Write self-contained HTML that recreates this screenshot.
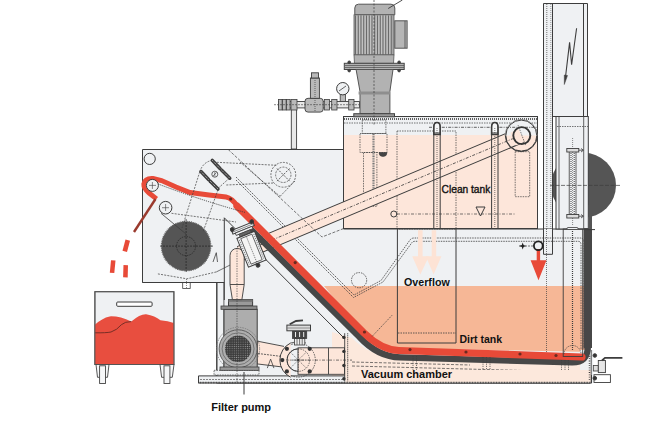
<!DOCTYPE html>
<html><head><meta charset="utf-8">
<style>
html,body{margin:0;padding:0;background:#fff;width:654px;height:423px;overflow:hidden}
svg{display:block}
text{font-family:"Liberation Sans",sans-serif;fill:#111;font-weight:bold}
</style></head><body>
<svg width="654" height="423" viewBox="0 0 654 423">
<defs>
<pattern id="grille" width="2.2" height="2.2" patternUnits="userSpaceOnUse"><rect width="2.2" height="2.2" fill="#3c3c3c"/><circle cx="1.1" cy="1.1" r="0.55" fill="#9a9a9a"/></pattern>
</defs>
<g fill="none" stroke="#3d3d3d" stroke-width="1">

<!-- ========== RIGHT TALL PANEL ========== -->
<circle cx="583.5" cy="185.3" r="32.5" fill="#555" stroke="none"/>
<path d="M543.5 254.3 V3.5 H587.5 V116.5 H552.5 V254.3 Z" fill="#eff1f3"/>
<line x1="552.5" y1="3.5" x2="552.5" y2="254.3"/>
<line x1="546.8" y1="4" x2="546.8" y2="252" stroke-dasharray="1 1" stroke-width="0.7"/>
<line x1="550.8" y1="4" x2="550.8" y2="252" stroke-dasharray="1 1" stroke-width="0.5"/>
<line x1="583.5" y1="3.5" x2="583.5" y2="116"/>
<path d="M576.6 28.3 L571.6 64.8 L569.6 42.4 L565.5 77" stroke-width="1.1"/>
<path d="M564.3 84.5 L564.3 75 L567.5 75.5 Z" fill="#3d3d3d" stroke-width="0.5"/>

<!-- ========== HOUSING / TANK GRAY BACKGROUND ========== -->
<path d="M142.5 149.5 H343.5 V229 H590 V383 H216.8 V282.5 H142.5 Z" fill="#eff1f3"/>

<!-- clean tank -->
<rect x="343.5" y="116.5" width="194" height="112" fill="#fde6da"/>
<rect x="344" y="117" width="193" height="18" fill="#eff1f3" stroke="none"/>
<rect x="343.5" y="116.5" width="194" height="112" fill="none"/>
<line x1="344" y1="119" x2="537" y2="119" stroke-dasharray="0.8 1.2" stroke-width="2"/>
<line x1="344" y1="123" x2="537" y2="123" stroke-dasharray="1.5 1" stroke-width="0.7"/>
<rect x="362.3" y="120" width="23.6" height="13.5" stroke-dasharray="1.5 1" stroke-width="0.7"/>
<rect x="360" y="133.5" width="27" height="19" stroke-dasharray="1.5 1" stroke-width="0.7"/>
<rect x="363.5" y="152.5" width="13.4" height="53.8" stroke-dasharray="1.5 1" stroke-width="0.7"/>
<line x1="373.5" y1="134" x2="373.5" y2="206" stroke-dasharray="1 0.7" stroke-width="2.2" stroke="#777"/>
<path d="M379 152.5 H387 A4 4 0 0 1 379 152.5 Z" fill="#444" stroke-width="0.6"/>
<rect x="397" y="131" width="59" height="98" stroke-dasharray="1.5 1" stroke-width="0.7"/>
<rect x="515.2" y="151.7" width="14.5" height="45" stroke-dasharray="1.5 1" stroke-width="0.7"/>
<circle cx="393.8" cy="214" r="3"/>
<line x1="397" y1="214" x2="515" y2="214" stroke-dasharray="3 1.5 1 1.5" stroke-width="0.7"/>
<path d="M476 207 H485 L480.5 216 Z"/>
<!-- rods -->

<!-- right inner panel -->
<rect x="556" y="116.5" width="32.3" height="112.5" fill="#eff1f3"/>
<line x1="559" y1="116.5" x2="559" y2="229" stroke-width="0.8"/>
<line x1="583.7" y1="116.5" x2="583.7" y2="229" stroke-width="0.8"/>
<line x1="557" y1="126.5" x2="588" y2="126.5" stroke-dasharray="1.5 1" stroke-width="0.7"/>
<rect x="569.2" y="150" width="6.8" height="66" fill="#eff1f3" stroke-width="0.8"/>
<line x1="571" y1="151" x2="571" y2="215" stroke-dasharray="1 1" stroke-width="1"/>
<line x1="574.2" y1="151" x2="574.2" y2="215" stroke-dasharray="1 1" stroke-width="1"/>
<line x1="572.6" y1="138" x2="572.6" y2="225" stroke-dasharray="1 1" stroke-width="0.6"/>
<rect x="566.8" y="148.5" width="12" height="3.5" fill="#ddd" stroke-width="0.9"/>
<rect x="566.8" y="214.5" width="12" height="3.5" fill="#ddd" stroke-width="0.9"/>
<path d="M578.8 150.2 H583 M581 148.5 L583.5 150.2 L581 152 M578.8 216.2 H583 M581 214.5 L583.5 216.2 L581 218" stroke-width="0.8"/>
<line x1="550" y1="185.4" x2="620" y2="185.4" stroke-dasharray="4 1.5" stroke-width="0.7"/>

<!-- ========== DIRT TANK ========== -->
<path d="M324 286 H588 V352 L395 348 Q375 346 362 333 Z" fill="#f6b796" stroke="none"/>
<!-- vacuum chamber peach -->
<path d="M332 332 L352 338 Q370 356 395 357 L588 362 V383 H332 Z" fill="#fce8dc" stroke="none"/>
<rect x="580" y="350" width="13.3" height="33" fill="#eff1f3" stroke="none"/>
<path d="M543.5 229 V254.3 H552.5 V229" fill="#eff1f3"/>
<line x1="546.5" y1="229" x2="546.5" y2="352" stroke-dasharray="1 1" stroke-width="0.7"/>
<!-- tank outer slope -->
<line x1="224.3" y1="217.8" x2="345" y2="339"/>
<line x1="224.3" y1="217.8" x2="224.3" y2="300"/>
<!-- inner dashed wall -->
<path d="M236 177 L354 295 L381 280.5 L410 240 Q411.5 238 414 238 H580 Q584 238 584 242 V350" stroke-dasharray="1.5 1" stroke-width="0.8"/>
<path d="M236 180 L353.5 297.5 L383 282 L412 242.5 Q413 241.3 415 241.3 H578 Q581 241.3 581 244.5 V350" stroke-dasharray="1.5 1" stroke-width="0.8"/>
<circle cx="359.1" cy="280.2" r="7.6" stroke-dasharray="1.5 1" stroke-width="0.8"/>
<line x1="519" y1="246" x2="534" y2="246" stroke-dasharray="2 1" stroke-width="0.7"/>
<path d="M522.7 242.5 L523.6 245.1 L526.2 246 L523.6 246.9 L522.7 249.5 L521.8 246.9 L519.2 246 L521.8 245.1 Z" fill="#222" stroke="none"/>

<!-- overflow box -->
<path d="M397.4 229 V343 H456 V229"/>
<line x1="398" y1="333" x2="456" y2="333" stroke-dasharray="1.5 1" stroke-width="0.8"/>
<!-- light arrows -->
<path d="M418 230.2 H422.6 V256.2 H429 L420.3 274.4 L412.2 256.2 H418 Z" fill="#fde3d5" stroke="none"/>
<path d="M431.7 230.2 H436.2 V256.2 H441.4 L433.6 274.4 L425.8 256.2 H431.7 Z" fill="#fde3d5" stroke="none"/>

<!-- red arrow -->
<path d="M536.7 249 H540.1 V260.2 H546.5 L538.5 280.3 L530.6 260.2 H536.7 Z" fill="#e84a38" stroke="none"/>
<circle cx="538.3" cy="245.8" r="4.4" stroke-width="1.8" stroke="#222"/>



<!-- ========== CONVEYOR BAR ========== -->
<line x1="240" y1="253.5" x2="521.3" y2="135.1" stroke="#3d3d3d" stroke-width="16"/>
<line x1="240" y1="253.5" x2="521.3" y2="135.1" stroke="#fde6da" stroke-width="14"/>
<line x1="240" y1="253.5" x2="535" y2="129.3" stroke-dasharray="3 1.5 1 1.5" stroke-width="0.8" stroke="#333"/>
<circle cx="521.3" cy="135.6" r="16" stroke-width="1"/>
<path d="M505.3 135.6 A16 16 0 0 1 537.3 135.6" fill="#eff1f3" stroke="none"/>
<circle cx="521.3" cy="135.6" r="15.5" fill="none"/>
<line x1="513" y1="139.1" x2="521.3" y2="135.6" stroke="#fde6da" stroke-width="14"/>
<circle cx="521.8" cy="135.6" r="8.5" stroke-width="1.9" stroke="#333"/>
<line x1="518" y1="125" x2="526" y2="146" stroke-dasharray="1.5 1" stroke-width="0.6"/>

<!-- rods over bar -->
<line x1="429" y1="127.3" x2="537" y2="127.3" stroke-dasharray="3 1.2 1 1.2" stroke-width="0.8"/>
<path d="M433.8 134.6 V127 Q433.8 122.5 437 122.5 Q440.2 122.5 440.2 127 V134.6 Z" fill="#f6f7f8" stroke-width="1.5"/>
<path d="M491.6 134.6 V127 Q491.6 122.5 494.8 122.5 Q498 122.5 498 127 V134.6 Z" fill="#f6f7f8" stroke-width="1.5"/>
<path d="M433.8 228 V127 Q433.8 122.5 437 122.5 Q440.2 122.5 440.2 127 V228" fill="none"/>
<line x1="433.8" y1="133" x2="440.2" y2="133"/>
<line x1="437" y1="128" x2="437" y2="228" stroke-dasharray="1 1" stroke-width="0.7"/>
<path d="M491.6 228 V127 Q491.6 122.5 494.8 122.5 Q498 122.5 498 127 V228" fill="none"/>
<line x1="491.6" y1="133" x2="498" y2="133"/>
<line x1="494.8" y1="128" x2="494.8" y2="228" stroke-dasharray="1 1" stroke-width="0.7"/>

<!-- ========== RED BELT ========== -->
<path d="M250 228.5 L359.5 337 Q378 357 400 357.3 L572 362.4 Q587.75 362.6 587.75 347" stroke="#474747" stroke-width="6.3"/>
<rect x="583.5" y="228" width="8.5" height="120" fill="#474747" stroke="none"/>
<rect x="588.5" y="205" width="3.5" height="24" fill="#555" stroke="none"/>
<line x1="584" y1="229.6" x2="595" y2="229.6" stroke-width="1"/>
<path d="M156.5 198.9 L149 193 Q143.5 188.5 143.8 184 Q145 178 153 178.5 L161.5 180.6 L176 187 L190 192.5 L209 195 L226 197 Q232 198 238 207" stroke="#e84a38" stroke-width="4.9"/>
<path d="M237 206 L364 333 Q381.5 350 399 350.5 L582 357" stroke="#e84a38" stroke-width="7.2" stroke-linecap="round"/>
<line x1="134" y1="232" x2="155.5" y2="199" stroke="#9a3a2e" stroke-width="2.4"/>
<line x1="372.2" y1="336.3" x2="392.3" y2="315" stroke-dasharray="1.5 1" stroke-width="0.7"/>
<g fill="#6a2a20" stroke="none">
<circle cx="230.7" cy="199" r="1.6"/>
<circle cx="252" cy="221.2" r="1.6"/>
<circle cx="295.2" cy="262.6" r="1.6"/>
<circle cx="364.5" cy="332" r="1.6"/>
<circle cx="410" cy="349.6" r="1.6"/>
<circle cx="466" cy="352" r="1.6"/>
<circle cx="520" cy="354" r="1.6"/>
<circle cx="556" cy="355.5" r="1.6"/>
</g>

<!-- right rod (dirt tank) -->
<rect x="563.2" y="229" width="19.5" height="127.5" stroke-width="0.9"/>
<line x1="572.5" y1="231" x2="572.5" y2="350" stroke-dasharray="1 1" stroke-width="1.2"/>
<path d="M564 354 A8.5 8.5 0 0 1 581 354" stroke-dasharray="1.2 1" stroke-width="0.8"/>
<rect x="567" y="227.5" width="11" height="2" rx="1" fill="#eff1f3" stroke-width="0.8"/>

<!-- ========== HOUSING DETAILS ========== -->
<circle cx="186.1" cy="246.1" r="24.7" fill="#555" stroke="#666" stroke-width="1.2" stroke-dasharray="1 0.8"/>
<circle cx="186.1" cy="246.1" r="9.5" stroke="#222" stroke-dasharray="1.5 1" stroke-width="0.7"/>
<line x1="160" y1="246.1" x2="214" y2="246.1" stroke="#222" stroke-dasharray="2 1" stroke-width="0.7"/>
<line x1="186.1" y1="219" x2="186.1" y2="273" stroke="#222" stroke-dasharray="2 1" stroke-width="0.7"/>
<circle cx="152.4" cy="185.4" r="6" fill="#eff1f3"/>
<circle cx="165.6" cy="207.7" r="6.3" fill="#eff1f3"/>
<circle cx="149.7" cy="158.9" r="5.6" fill="#eff1f3"/>
<path d="M149 185.4 h7 M152.4 182 v7 M162 207.7 h7 M165.6 204 v7" stroke-width="0.6"/>
<!-- tensioner -->
<g stroke-linecap="round">
<line x1="201" y1="171.5" x2="208.5" y2="179.5" stroke-width="3.4"/>
<line x1="210" y1="181" x2="218" y2="189" stroke-width="3.4"/>
<line x1="212.3" y1="160.3" x2="220" y2="168.5" stroke-width="3.4"/>
<line x1="221.5" y1="170" x2="229.8" y2="178.2" stroke-width="3.4"/>
</g>
<g stroke="#ccc" stroke-width="1" stroke-dasharray="1 1">
<line x1="201" y1="171.5" x2="208.5" y2="179.5"/><line x1="210" y1="181" x2="218" y2="189"/>
<line x1="212.3" y1="160.3" x2="220" y2="168.5"/><line x1="221.5" y1="170" x2="229.8" y2="178.2"/>
</g>
<circle cx="214.8" cy="174.2" r="3" fill="#eff1f3" stroke-width="0.8"/>
<path d="M213 176 L216.5 172.5 M214.8 172 v4.4" stroke-width="0.6"/>
<!-- dashed lines housing -->
<g stroke-dasharray="2 1.2" stroke-width="0.7">
<path d="M199.8 171.7 Q203 162 212.1 160.4"/>
<path d="M199.8 171.7 L182 228"/>
<path d="M229.1 178.4 L218.7 187.8 L203 232"/>
<path d="M216.8 162.3 L277 165.3"/>
<path d="M226.3 185 L274 183"/>
<circle cx="283.3" cy="174.8" r="12.4"/>
<circle cx="283.3" cy="174.8" r="7.7"/>
<path d="M277 168.5 L289.6 181.1 M289.6 168.5 L277 181.1" stroke-width="0.8"/>
<path d="M295 181 L280.4 196"/>
<path d="M240 162 L281 197.2"/>
<path d="M228.2 149.5 L322 237 L345 228" stroke-dasharray="3 1.5"/>
<path d="M158.2 184 Q200 200 245 212.4" stroke-dasharray="1.2 1" stroke-width="0.9"/>
<path d="M171.5 213.3 L236 222"/>
<path d="M157.9 273.9 L186.8 278.8 L216.4 271.9"/>
<path d="M216.4 271.9 L250 255" stroke-dasharray="none"/>

</g>
<line x1="161" y1="213.3" x2="186" y2="234" stroke-width="0.8"/>
<path d="M213 262 L216.3 252.7 L217.5 262" stroke-width="0.8"/>
<rect x="182.7" y="282.6" width="7.5" height="5.8" fill="#fff" stroke-width="0.8"/><line x1="186.5" y1="279" x2="186.5" y2="288" stroke-dasharray="1 1" stroke-width="0.6"/>
<line x1="142.5" y1="282.5" x2="224.3" y2="282.5"/>

<!-- valve assembly on top -->
<rect x="291.3" y="104" width="5.3" height="45" fill="#e8e8e8" stroke-width="0.9"/>
<rect x="278.5" y="101.5" width="81" height="6.4" fill="#e8e8e8" stroke-width="0.9"/>
<rect x="278.5" y="99.4" width="3.6" height="10.6" fill="#b9b9b9" stroke-width="0.8"/>
<rect x="282.5" y="99.4" width="3.6" height="10.6" fill="#b9b9b9" stroke-width="0.8"/>
<rect x="286.5" y="99.4" width="3.6" height="10.6" fill="#b9b9b9" stroke-width="0.8"/>
<rect x="291" y="99.4" width="6" height="10.6" fill="#b9b9b9" stroke-width="0.8"/>
<rect x="305" y="98.3" width="18.2" height="13.8" rx="3" fill="#b9b9b9" stroke-width="0.9"/>
<rect x="310.4" y="78" width="9" height="20.3" fill="#b9b9b9" stroke-width="0.9"/>
<rect x="311.5" y="72.8" width="7" height="5.2" fill="#b9b9b9" stroke-width="0.9"/>
<line x1="315" y1="80" x2="315" y2="112" stroke-dasharray="1 1" stroke-width="0.7"/>
<rect x="324.3" y="99.4" width="5.3" height="10.6" fill="#b9b9b9" stroke-width="0.8"/>
<rect x="331.7" y="99.4" width="5.3" height="10.6" fill="#b9b9b9" stroke-width="0.8"/>
<rect x="348.7" y="99.4" width="5.3" height="10.6" fill="#b9b9b9" stroke-width="0.8"/>
<rect x="340.2" y="94" width="5.3" height="7.5" fill="#b9b9b9" stroke-width="0.8"/>
<circle cx="342.8" cy="88.7" r="6.2" fill="#eff1f3" stroke-width="1"/>
<path d="M339 91 L346 86" stroke-width="0.8"/>
<line x1="274" y1="104.7" x2="365" y2="104.7" stroke-dasharray="2 1" stroke-width="0.6"/>

<!-- ========== MOTOR ========== -->
<path d="M354.8 14.8 V8 Q354.8 4.2 358.5 4.2 H391 Q394.8 4.2 394.8 8 V14.8 Z" fill="#b2b2b2" stroke="#555"/>
<rect x="394.8" y="20.8" width="12.3" height="27.4" fill="#b6b6b6" stroke="#555"/>
<line x1="405" y1="21" x2="405" y2="48" stroke-width="0.7"/>
<rect x="354" y="14.8" width="40" height="40" fill="#a8a8a8" stroke="#555" stroke-width="0.8"/>
<path d="M355.50 15.5 V54.5 M358.25 15.5 V54.5 M361.00 15.5 V54.5 M363.75 15.5 V54.5 M366.50 15.5 V54.5 M369.25 15.5 V54.5 M372.00 15.5 V54.5 M374.75 15.5 V54.5 M377.50 15.5 V54.5 M380.25 15.5 V54.5 M383.00 15.5 V54.5 M385.75 15.5 V54.5 M388.50 15.5 V54.5 M391.25 15.5 V54.5" stroke="#6a6a6a" stroke-width="1"/>
<path d="M356.85 15.5 V54.5 M359.60 15.5 V54.5 M362.35 15.5 V54.5 M365.10 15.5 V54.5 M367.85 15.5 V54.5 M370.60 15.5 V54.5 M373.35 15.5 V54.5 M376.10 15.5 V54.5 M378.85 15.5 V54.5 M381.60 15.5 V54.5 M384.35 15.5 V54.5 M387.10 15.5 V54.5 M389.85 15.5 V54.5" stroke="#cacaca" stroke-width="0.9"/>
<path d="M354 54.8 H394 L393.5 63.4 H354.5 Z" fill="#b2b2b2" stroke="#555" stroke-width="0.8"/>
<rect x="344.3" y="63.3" width="59.9" height="6.2" fill="#b2b2b2" stroke="#444"/>
<line x1="345" y1="65.5" x2="404" y2="65.5" stroke-width="0.6"/>
<line x1="345" y1="67.5" x2="404" y2="67.5" stroke-width="0.6"/>
<circle cx="349.2" cy="62.3" r="1.3" fill="#444"/>
<circle cx="349.2" cy="70.6" r="1.3" fill="#444"/>
<circle cx="399.1" cy="62.3" r="1.3" fill="#444"/>
<circle cx="399.1" cy="70.6" r="1.3" fill="#444"/>
<path d="M356.1 69.5 H393 L389.9 91.5 V113.7 H360 V91.5 Z" fill="#b2b2b2" stroke="#555"/>
<rect x="358.6" y="91.5" width="31.3" height="3" fill="#8e8e8e" stroke="none"/>
<rect x="353.8" y="113.7" width="40.7" height="3.1" fill="#999" stroke="#444"/>
<line x1="374" y1="0" x2="374" y2="125" stroke-dasharray="2 1.5" stroke-width="0.7"/>
<line x1="388.2" y1="8.5" x2="402.4" y2="0" stroke-width="0.9"/>

<g stroke-dasharray="1.2 1" stroke-width="0.7">
<path d="M483 357 V382 M486.5 357 V382 M490 357 V382"/>
<path d="M561.5 360 V382 M565 360 V382 M568.5 360 V382"/>
<path d="M413 356 V382 M416.5 356 V382"/>
<path d="M352 366 L580 372" stroke-dasharray="3 1.5"/>
<path d="M352 362 L470 365" stroke-dasharray="3 1.5"/>
</g>
<!-- ========== BASE PLATE ========== -->
<path d="M345 375.9 H198.5 V383 H591.5 V375" fill="#eff1f3"/>
<rect x="345.5" y="370" width="245.5" height="12.5" fill="#fce8dc" stroke="none"/>
<line x1="198.5" y1="382.6" x2="591.5" y2="382.6" stroke-dasharray="0.8 0.8" stroke-width="1.8"/>
<line x1="200" y1="379.5" x2="345" y2="379.5" stroke-dasharray="2 1" stroke-width="0.6"/>

<!-- vertical strip left of pump -->
<line x1="216.8" y1="282.5" x2="216.8" y2="374"/>
<line x1="223.9" y1="282.5" x2="223.9" y2="374" stroke-width="0.8"/>

<!-- ========== FILTER PUMP ========== -->
<path d="M284 346.4 L257 341.1 V363.9 L284 367.2" fill="#fde6da" stroke-width="0.9"/>
<line x1="258" y1="353.5" x2="282" y2="356.5" stroke-dasharray="2 1" stroke-width="0.8"/>
<path d="M267.3 368.1 L270.6 359.1 L273.9 368.1" stroke-width="0.8"/>
<rect x="214" y="370.3" width="45" height="4.7" fill="#eff1f3" stroke-dasharray="1.5 1" stroke-width="0.7"/>
<rect x="224" y="309.3" width="33.2" height="60" fill="#adadad"/>
<rect x="228.5" y="299.6" width="24.1" height="6.4" fill="#9a9a9a"/>
<rect x="228.5" y="299.6" width="24.1" height="2.2" fill="#777" stroke="none"/>
<rect x="221" y="306" width="36" height="3.3" fill="#8e8e8e" stroke-width="0.8"/>
<circle cx="238.1" cy="348.8" r="21.5" fill="none" stroke="#777" stroke-width="0.8" stroke-dasharray="1.5 1"/>
<circle cx="238.1" cy="348.8" r="19" fill="#adadad" stroke="#555" stroke-width="0.9"/>
<circle cx="238.1" cy="348.8" r="16" fill="#adadad" stroke="#666" stroke-width="0.8"/>
<circle cx="238.1" cy="348.8" r="13.2" fill="url(#grille)" stroke="none"/>
<rect x="220" y="367" width="39" height="3.3" fill="#999" stroke-width="0.8"/>
<path d="M230 284.5 V255.5 A7.1 7.1 0 0 1 244.2 255.5 V284.5 L241.9 299.6 H232.4 Z" fill="#fde6da" stroke-width="0.9"/>
<line x1="230" y1="284.5" x2="244.2" y2="284.5" stroke-width="0.9"/>
<line x1="237" y1="248" x2="237" y2="383" stroke-dasharray="1.5 1" stroke-width="0.6"/>
<line x1="244" y1="372" x2="244" y2="394.5" stroke-width="1"/>

<!-- inclined valve -->
<g transform="rotate(-22 251 248)">
<rect x="239.5" y="224.5" width="23" height="3.8" fill="#eff1f3" stroke-width="1"/>
<line x1="239.5" y1="226.4" x2="262.5" y2="226.4" stroke-width="0.5"/>
<rect x="242" y="228.3" width="18" height="2.5" fill="#eff1f3" stroke-width="0.8"/>
<rect x="245" y="230.8" width="12" height="3" fill="#666" stroke-width="0.6"/>
<rect x="241.5" y="233.8" width="19" height="31" fill="#eff1f3" stroke-width="1"/>
<rect x="245" y="235.5" width="12" height="27.5" fill="#f4f4f4" stroke-width="0.7"/>
<line x1="251" y1="235.5" x2="251" y2="263" stroke-dasharray="1.2 1" stroke-width="0.6"/>
<line x1="243.2" y1="236" x2="243.2" y2="263" stroke-dasharray="1.2 1" stroke-width="0.6"/>
<line x1="258.8" y1="236" x2="258.8" y2="263" stroke-dasharray="1.2 1" stroke-width="0.6"/>
<circle cx="240.5" cy="223.8" r="1.8" fill="#333"/>
<circle cx="261.5" cy="223.8" r="1.8" fill="#333"/>
<circle cx="251" cy="266.5" r="1.9" fill="#333"/>
</g>
<!-- ========== BOTTOM VALVE ========== -->
<rect x="298" y="347.8" width="46.5" height="26.5" fill="#fde6da" stroke-width="0.9"/>
<line x1="328.5" y1="347.8" x2="328.5" y2="374.3" stroke-width="0.9"/>
<line x1="280" y1="360.1" x2="352" y2="360.1" stroke-dasharray="3 1.5 1 1.5" stroke-width="0.7"/>
<circle cx="298.3" cy="360.1" r="17" stroke-dasharray="1.5 1" stroke-width="0.8"/>
<path d="M290.6 343 A19 19 0 0 0 290.6 377.2" fill="#fde6da" stroke-width="1"/>
<path d="M290.6 343 Q298.3 340 306 343" stroke-width="0.8"/>
<path d="M298.3 348.8 A11.3 11.3 0 0 0 298.3 371.4" stroke-width="1"/>
<circle cx="298.3" cy="360.1" r="11.3" stroke-dasharray="1.5 1" stroke-width="0.7"/>
<path d="M298.3 349 V371 M287.3 360.1 H309.3 M290.5 352.3 L306.1 367.9 M290.5 367.9 L306.1 352.3" stroke-dasharray="1.5 1" stroke-width="0.6"/>
<g fill="#333" stroke="none">
<circle cx="286.9" cy="348.8" r="2.1"/><circle cx="282.3" cy="360.1" r="2.1"/><circle cx="286.9" cy="371.4" r="2.1"/>
<circle cx="309.7" cy="348.8" r="2.1"/><circle cx="309.7" cy="371.4" r="2.1"/><circle cx="298.3" cy="360.1" r="1.2"/>
</g>
<rect x="294.4" y="338.4" width="10.4" height="6.6" fill="#eee" stroke-width="0.8"/>
<path d="M297 338.6 v6.2 M299.6 338.6 v6.2 M302.2 338.6 v6.2" stroke-width="0.7"/>
<rect x="292.5" y="330.8" width="14.2" height="7.6" fill="#444" stroke-width="0.8"/>
<path d="M295.5 332 v5 M299.6 332 v5 M303.7 332 v5" stroke="#eee" stroke-width="1"/>
<rect x="286.9" y="325.1" width="23.6" height="5.7" fill="#dcdcdc" stroke-width="1"/>
<line x1="287.5" y1="328" x2="310" y2="328" stroke-width="0.5"/>
<path d="M289.7 324.2 L296 321 L303 320.4" stroke-width="1.8"/>
<!-- flange -->
<line x1="347.7" y1="333.2" x2="347.7" y2="381.5" stroke-dasharray="1.2 0.8" stroke-width="0.9"/>
<line x1="344.7" y1="333.2" x2="344.7" y2="381.5" stroke-width="0.9"/>
<g fill="#333" stroke="none"><circle cx="343.9" cy="337.4" r="1.7"/><circle cx="343.9" cy="351.4" r="1.7"/><circle cx="343.9" cy="365.5" r="1.7"/><circle cx="343.9" cy="378.7" r="1.7"/></g>

<!-- right bottom fitting -->
<line x1="591.2" y1="350" x2="591.2" y2="382.5" stroke-width="0.9"/>
<line x1="589.5" y1="356" x2="589.5" y2="380" stroke-dasharray="0.8 1.5" stroke-width="1.5"/>
<rect x="594" y="374.7" width="16.4" height="7.8" fill="#fff" stroke-width="0.9"/>
<rect x="593.3" y="365.5" width="5" height="5.5" fill="#ddd" stroke-width="0.8"/>
<rect x="598.3" y="360.5" width="7.1" height="12.1" fill="#e6e6e6" stroke-width="0.9"/>
<path d="M602 360.5 L605 357.8 H622.4" stroke-width="1.8"/>
<circle cx="594.8" cy="355.5" r="1.8" fill="#333"/>
<circle cx="594.8" cy="378.2" r="1.8" fill="#333"/>

<!-- ========== BIN ========== -->
<rect x="94.9" y="291.7" width="79" height="72.8" fill="#eff1f3" stroke="#555"/>
<path d="M94.9 324.7 Q102 318 109.7 316.4 Q120 316 131.3 321.6 Q140 314 146.1 314.3 Q155 316 160.4 320.3 Q168 321 173.9 322.9 V364.5 H94.9 Z" fill="#e84e3f" stroke="none"/>
<path d="M94.9 332.8 Q106 333 111 332 Q117 330 121.4 324.7 Q125 321.5 131.3 321.6" stroke="#6b2a22" stroke-width="0.9"/>
<rect x="94.9" y="291.7" width="79" height="72.8" fill="none" stroke="#555"/>
<rect x="116.7" y="302" width="35.4" height="4.3" rx="1" fill="#fff"/>
<path d="M96 364.5 H109 L107.5 377.3 H97.5 Z" fill="#f6f7f8" stroke="#444" stroke-width="0.9"/>
<rect x="99.6" y="365.8" width="5.9" height="17.7" fill="#f6f7f8" stroke="#444" stroke-width="0.9"/>
<path d="M160 364.5 H174 L172.3 377.3 H161.6 Z" fill="#f6f7f8" stroke="#444" stroke-width="0.9"/>
<rect x="164" y="365.8" width="5.9" height="17.7" fill="#f6f7f8" stroke="#444" stroke-width="0.9"/>

<!-- red drops -->
<path d="M122.5 250.8 L125.5 239.5 L130 240.7 L127 252 Z" fill="#e84a38" stroke="none"/>
<path d="M109.8 272.7 L111 260.2 L115.5 260.6 L114.3 273 Z" fill="#e84a38" stroke="none"/>
<path d="M123.1 277.2 L123.5 265 L128 265.2 L127.7 277.4 Z" fill="#e84a38" stroke="none"/>
</g>

<text x="441.6" y="192.7" font-size="10.2" style="font-weight:normal;stroke:#111;stroke-width:0.35px">Clean tank</text>
<text x="404" y="286.1" font-size="10.7">Overflow</text>
<text x="459.5" y="343.3" font-size="10.5">Dirt tank</text>
<text x="361" y="377.6" font-size="11">Vacuum chamber</text>
<text x="211.2" y="410.9" font-size="11">Filter pump</text>
</svg>
</body></html>
